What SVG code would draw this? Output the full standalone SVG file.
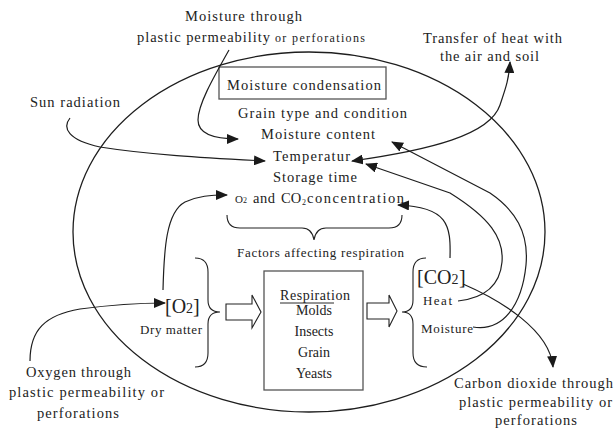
<svg xmlns="http://www.w3.org/2000/svg" width="614" height="431" viewBox="0 0 614 431">
<defs>
<marker id="ah" viewBox="0 0 12 10" refX="11" refY="5" markerWidth="12" markerHeight="10" markerUnits="userSpaceOnUse" orient="auto-start-reverse">
<path d="M0,0 L12,5 L0,10 Z" fill="#1a1a1a"/>
</marker>
</defs>
<style>
text{fill:#222;font-size:14.5px}
.s{font-size:13px}
.sm{font-size:12px}
.big{font-size:20px}
.c{text-anchor:middle;font-size:14px}
.ln{fill:none;stroke:#1e1e1e;stroke-width:1.2}
.arr{marker-end:url(#ah)}
.box{fill:none;stroke:#555;stroke-width:1.3}
.br{fill:none;stroke:#222;stroke-width:1.1}
.ha{fill:#fff;stroke:#222;stroke-width:1.1}
</style>
<rect width="614" height="431" fill="#fff"/>

<g id="boundary">
<ellipse cx="309" cy="232" rx="236" ry="180" fill="none" stroke="#1e1e1e" stroke-width="1.3"/>
</g>

<g font-family="Liberation Serif, Times New Roman, DejaVu Serif, serif">
<g id="moisture-through">
<text x="185" y="21" textLength="117" lengthAdjust="spacing">Moisture through</text>
<text x="137" y="42" textLength="133" lengthAdjust="spacing">plastic permeability</text>
<text x="275" y="42" class="sm" textLength="90" lengthAdjust="spacing">or perforations</text>
</g>

<g id="transfer-heat">
<text x="423" y="43" textLength="139" lengthAdjust="spacing">Transfer of heat with</text>
<text x="440" y="61" textLength="99" lengthAdjust="spacing">the air and soil</text>
</g>

<g id="moisture-condensation">
<rect x="219" y="67" width="167" height="32" class="box"/>
<text x="227" y="90" textLength="154" lengthAdjust="spacing">Moisture condensation</text>
</g>

<g id="sun-radiation">
<text x="30" y="107" textLength="90" lengthAdjust="spacing">Sun radiation</text>
</g>

<g id="factors">
<text x="238" y="118" textLength="169" lengthAdjust="spacing">Grain type and condition</text>
<text x="261" y="139" textLength="114" lengthAdjust="spacing">Moisture content</text>
<text x="273" y="161" textLength="77" lengthAdjust="spacing">Temperatur</text>
<text x="273" y="182" textLength="84" lengthAdjust="spacing">Storage time</text>
<text y="203"><tspan x="235" font-size="11">O</tspan><tspan font-size="8">2</tspan><tspan x="253" textLength="22" lengthAdjust="spacing">and</tspan><tspan x="281">CO</tspan><tspan x="302" dy="2" font-size="8">2</tspan><tspan x="307" dy="-2" textLength="97" lengthAdjust="spacing">concentration</tspan></text>
<path class="br" d="M227,215 Q227,228 240,228 L302,228 Q312,228 314,240 Q316,228 326,228 L389,228 Q402,228 402,215"/>
<text x="237" y="257" class="s" textLength="167" lengthAdjust="spacing">Factors affecting respiration</text>
</g>

<g id="inputs">
<text x="165" y="313" class="big">[O<tspan font-size="14">2</tspan>]</text>
<text x="140" y="334" class="s" textLength="62" lengthAdjust="spacing">Dry matter</text>
<path class="br" d="M195,258 Q208,258 208,272 L208,300 Q208,312 220,312 Q208,312 208,324 L208,353 Q208,367 195,367"/>
<polygon class="ha" points="226,304 252,304 252,295 261,312 252,328 252,320 226,320"/>
</g>

<g id="respiration">
<rect x="264" y="271" width="99" height="119" class="box"/>
<text x="280" y="300" textLength="70" lengthAdjust="spacing" style="font-size:14px">Respiration</text>
<line x1="280" y1="303" x2="334" y2="303" stroke="#2a2a2a" stroke-width="1"/>
<text x="314" y="315" class="c">Molds</text>
<text x="314" y="336" class="c">Insects</text>
<text x="314" y="357" class="c">Grain</text>
<text x="314" y="378" class="c">Yeasts</text>
</g>

<g id="outputs">
<polygon class="ha" points="367,303 389,303 389,295 397,311 389,327 389,319 367,319"/>
<path class="br" d="M426,258 Q413,258 413,272 L413,300 Q413,312 402,312 Q413,312 413,324 L413,353 Q413,367 427,367"/>
<text x="417" y="284" class="big">[CO<tspan font-size="14">2</tspan><tspan x="459">]</tspan></text>
<text x="423" y="305" class="s" textLength="29" lengthAdjust="spacing">Heat</text>
<text x="421" y="333" class="s" textLength="52" lengthAdjust="spacing">Moisture</text>
</g>

<g id="carbon-dioxide">
<text x="454" y="388" textLength="159" lengthAdjust="spacing">Carbon dioxide through</text>
<text x="459" y="407" textLength="153" lengthAdjust="spacing">plastic permeability or</text>
<text x="495" y="425" textLength="82" lengthAdjust="spacing">perforations</text>
</g>

<g id="oxygen">
<text x="26" y="377" textLength="105" lengthAdjust="spacing">Oxygen through</text>
<text x="9" y="397" textLength="155" lengthAdjust="spacing">plastic permeability or</text>
<text x="37" y="418" textLength="82" lengthAdjust="spacing">perforations</text>
</g>
</g>

<g id="connectors">
<path class="ln arr" d="M229,50 C212,80 198,105 198,120 C198,133 212,139 238,139"/>
<path class="ln arr" d="M70,118 C62,128 68,140 100,147 C150,155 210,158 265,161"/>
<path class="ln arr" d="M352,161 C430,150 490,135 500,105 C505,90 509,80 510,62" style="marker-start:url(#ah)"/>
<path class="ln arr" d="M473,327 C503,332 522,305 526,265 C529,232 515,210 490,193 L392,142"/>
<path class="ln arr" d="M458,301 C485,298 500,285 502,262 C504,238 490,218 450,193 L366,164"/>
<path class="ln arr" d="M450,258 C451,225 448,207 398,205"/>
<path class="ln arr" d="M163,290 C164,250 166,212 185,202 C198,196 210,195 227,195"/>
<path class="ln arr" d="M30,361 C30,330 45,315 80,309 C110,305 140,303 165,303"/>
<path class="ln arr" d="M463,284 C500,300 550,330 553,367"/>
</g>
</svg>
